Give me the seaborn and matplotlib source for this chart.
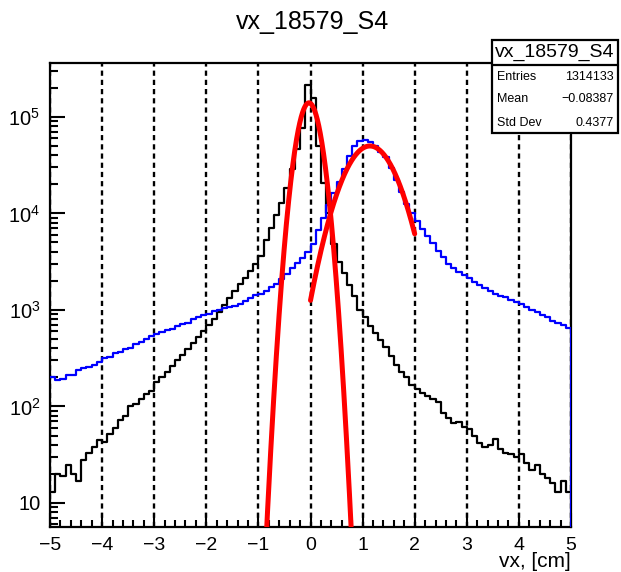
import numpy as np
import pandas as pd
import matplotlib
matplotlib.use("Agg")
import matplotlib.pyplot as plt
import seaborn as sns
from matplotlib.ticker import FixedLocator, FixedFormatter, LogLocator, MultipleLocator, NullFormatter
from matplotlib.patches import Rectangle
from matplotlib.lines import Line2D

# ---------------- data ----------------
title = "vx_18579_S4"
x_label = "vx, [cm]"
x_range = (-5.0, 5.0)
n_bins = 100

black_counts = [
    13, 20, 19, 25, 20, 17, 28, 33, 38, 45,
    43, 52, 60, 72, 79, 100, 105, 120, 135, 145,
    178, 204, 229, 263, 302, 339, 398, 457, 525, 603,
    692, 813, 955, 1122, 1318, 1585, 1862, 2138, 2512, 3020,
    3631, 5250, 7080, 9550, 12900, 18200, 28800, 46800, 75900, 214000,
    158000, 50100, 20900, 10000, 4790, 3160, 2400, 1820, 1410, 1000,
    851, 676, 575, 490, 417, 331, 269, 229, 200, 166,
    151, 138, 129, 120, 112, 85, 76, 68, 69, 62,
    58, 50, 42, 38, 40, 46, 36, 33, 32, 30,
    32, 26, 22, 25, 20, 18, 16, 13, 17, 13,
]

blue_counts = [
    200, 186, 191, 214, 212, 240, 251, 257, 269, 288,
    316, 324, 355, 363, 398, 407, 447, 468, 501, 537,
    562, 589, 617, 631, 676, 708, 741, 813, 851, 891,
    912, 977, 1000, 1047, 1072, 1096, 1148, 1230, 1318, 1413,
    1479, 1585, 1738, 1862, 2089, 2344, 2692, 3090, 3467, 3981,
    4786, 6761, 8913, 12300, 16200, 21400, 28800, 39800, 50100, 56200,
    57500, 55000, 50100, 43700, 38000, 29500, 22400, 16600, 12600, 10000,
    8320, 6920, 5890, 4900, 4070, 3550, 3020, 2690, 2450, 2290,
    2140, 1950, 1820, 1700, 1585, 1480, 1410, 1350, 1260, 1200,
    1150, 1070, 1000, 955, 891, 851, 776, 741, 692, 646,
]

# Gaussian fit parameters (amplitude, mean, sigma, fit range)
fit1_amp, fit1_mean, fit1_sigma, fit1_range = 1.40e5, -0.03, 0.18, (-1.0, 1.0)
fit2_amp, fit2_mean, fit2_sigma, fit2_range = 5.0e4, 1.14, 0.42, (0.0, 2.0)

stats_labels = ["Entries", "Mean", "Std Dev"]
stats_values = ["1314133", "\u22120.08387", "0.4377"]

xtick_values = [-5, -4, -3, -2, -1, 0, 1, 2, 3, 4, 5]
ytick_values = [10, 100, 1000, 10000, 100000]
ytick_labels = ["10", r"$\mathregular{10^{2}}$", r"$\mathregular{10^{3}}$",
                r"$\mathregular{10^{4}}$", r"$\mathregular{10^{5}}$"]
y_limits = (5.64, 3.62e5)

# ---------------- style ----------------
sns.set_style("white")
plt.rcParams["font.family"] = ["Liberation Sans", "DejaVu Sans"]
plt.rcParams["mathtext.fontset"] = "custom"
plt.rcParams["mathtext.rm"] = "Liberation Sans"
plt.rcParams["mathtext.it"] = "Liberation Sans:italic"
plt.rcParams["mathtext.bf"] = "Liberation Sans:bold"
for k in ["text.color", "axes.labelcolor", "xtick.color", "ytick.color", "axes.edgecolor"]:
    plt.rcParams[k] = "black"

W, H = 621, 572
fig = plt.figure(figsize=(W / 100, H / 100), dpi=100)
ax = fig.add_axes([50 / W, 1 - 527 / H, (571 - 50) / W, (527 - 63) / H])

edges = np.linspace(x_range[0], x_range[1], n_bins + 1)
centers = 0.5 * (edges[:-1] + edges[1:])
df_black = pd.DataFrame({"vx": centers, "count": black_counts})
df_blue = pd.DataFrame({"vx": centers, "count": blue_counts})

ax.set_yscale("log")
sns.histplot(data=df_black, x="vx", weights="count", bins=edges.tolist(), element="step",
             fill=False, color="black", linewidth=1.6, ax=ax, zorder=3)
sns.histplot(data=df_blue, x="vx", weights="count", bins=edges.tolist(), element="step",
             fill=False, color="#0000ff", linewidth=1.6, ax=ax, zorder=3)
ax.vlines(edges[-1], y_limits[0], blue_counts[-1], color="#0000ff", lw=2.2, zorder=4)

def gaus(x, a, m, s):
    return a * np.exp(-0.5 * ((x - m) / s) ** 2)

xf1 = np.linspace(fit1_range[0], fit1_range[1], 500)
xf2 = np.linspace(fit2_range[0], fit2_range[1], 500)
sns.lineplot(x=xf1, y=gaus(xf1, fit1_amp, fit1_mean, fit1_sigma), color="#ff0000",
             lw=3.6, ax=ax, zorder=5, sort=False)
sns.lineplot(x=xf2, y=gaus(xf2, fit2_amp, fit2_mean, fit2_sigma), color="#ff0000",
             lw=3.6, ax=ax, zorder=5, sort=False)

ax.set_xlim(*x_range)
ax.set_ylim(*y_limits)

# grid: vertical dotted lines at integer x
ax.xaxis.set_major_locator(FixedLocator(xtick_values))
ax.xaxis.set_minor_locator(MultipleLocator(0.2))
ax.grid(axis="x", which="major", color="black", linestyle=(0, (2.2, 1.7)), linewidth=1.7)
ax.grid(axis="y", visible=False)
ax.set_axisbelow(True)

ax.yaxis.set_major_locator(FixedLocator(ytick_values))
ax.yaxis.set_major_formatter(FixedFormatter(ytick_labels))
ax.yaxis.set_minor_locator(LogLocator(base=10, subs=np.arange(2, 10), numticks=20))
ax.yaxis.set_minor_formatter(NullFormatter())

ax.tick_params(axis="both", which="both", direction="in", top=False, right=False,
               bottom=True, left=True, color="black", width=1.5)
ax.tick_params(axis="x", which="major", length=10, labelsize=14, pad=7)
ax.tick_params(axis="x", which="minor", length=5)
ax.tick_params(axis="y", which="major", length=11, labelsize=14.5, pad=7)
ax.tick_params(axis="y", which="minor", length=5.5)

for sp in ax.spines.values():
    sp.set_visible(True)
    sp.set_color("black")
    sp.set_linewidth(1.6)

ax.set_xlabel(x_label, fontsize=15, loc="right", labelpad=-1)
ax.set_ylabel("")

fig.text(313 / W, 1 - 22 / H, title, ha="center", va="center", fontsize=18)

# ---------------- stats box ----------------
bx0, bx1 = 492 / W, 618 / W
by_top, by_sep, by_bot = 1 - 40 / H, 1 - 65 / H, 1 - 133 / H
fig.patches.append(Rectangle((bx0, by_bot), bx1 - bx0, by_top - by_bot, transform=fig.transFigure,
                             facecolor="white", edgecolor="black", lw=1.6, zorder=10))
fig.lines.append(Line2D([bx0, bx1], [by_sep, by_sep], transform=fig.transFigure,
                        color="black", lw=1.6, zorder=11))
fig.text((bx0 + bx1) / 2, 1 - 52 / H, title, ha="center", va="center", fontsize=14, zorder=12)
row_y = [77, 99, 123]
for lab, val, ry in zip(stats_labels, stats_values, row_y):
    fig.text(497 / W, 1 - ry / H, lab, ha="left", va="center", fontsize=9, zorder=12)
    fig.text(614 / W, 1 - ry / H, val, ha="right", va="center", fontsize=9, zorder=12)

fig.savefig("out.png", dpi=100)
